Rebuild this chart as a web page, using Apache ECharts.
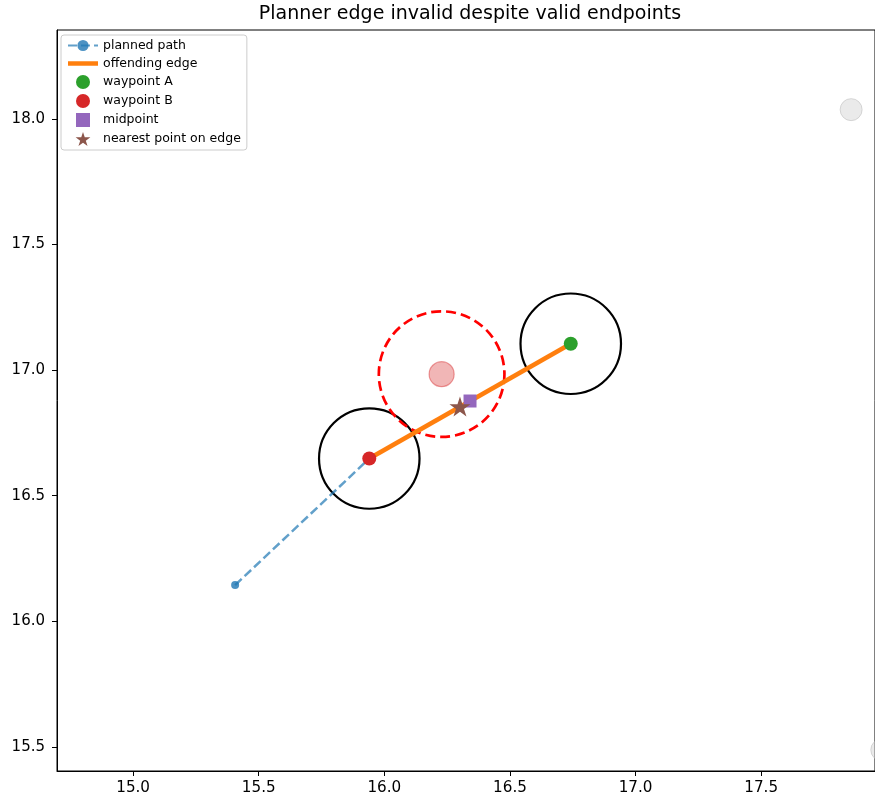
<!DOCTYPE html>
<html>
<head>
<meta charset="utf-8">
<script src="https://cdn.jsdelivr.net/npm/echarts@6/dist/echarts.min.js"></script>
<style>
  html, body { margin: 0; padding: 0; background: #fff; }
  #chart { width: 875px; height: 802px; }
</style>
</head>
<body>
<div id="chart"></div>
<script>
// data
const pathPoints = [[15.406, 16.144], [15.940, 16.648]]
const edgePoints = [[15.940, 16.648], [16.742, 17.105]]
const waypointA = [16.742, 17.105]
const waypointB = [15.940, 16.648]
const midpoint = [16.341, 16.877]
const nearestPoint = [16.301, 16.855]
const obstacleCenter = [16.228, 16.984]
const obstacleRadius = 0.25
const clearanceCircles = [[15.940, 16.648, 0.2], [16.742, 17.105, 0.2]]
const otherObstacles = [[17.858, 18.037], [17.98, 15.488]]
const xTicks = [15.0, 15.5, 16.0, 16.5, 17.0, 17.5]
const yTicks = [15.5, 16.0, 16.5, 17.0, 17.5, 18.0]

const FONT = 'DejaVu Sans'
const starPath = 'path://M0,-1L0.2245,-0.309L0.951,-0.309L0.363,0.118L0.588,0.809L0,0.382L-0.588,0.809L-0.363,0.118L-0.951,-0.309L-0.2245,-0.309Z'
const barPath = 'path://M0,0H30V4.5H0Z'
const squarePath = 'path://M0,0H1V1H0Z'

// circle in data units drawn through the axes
function circleItem(stroke, width, dash) {
  return function (params, api) {
    const c = api.coord([api.value(0), api.value(1)])
    const r = api.size([api.value(2), 0])[0]
    return {
      type: 'circle',
      shape: { cx: c[0], cy: c[1], r: r },
      style: { fill: 'none', stroke: stroke, lineWidth: width, lineDash: dash },
    }
  }
}

const chart = echarts.init(document.getElementById('chart'))
chart.setOption({
  animation: false,
  title: {
    text: 'Planner edge invalid despite valid endpoints',
    left: 465,
    top: 0,
    textAlign: 'center',
    textStyle: { fontFamily: FONT, fontSize: 19, fontWeight: 'normal', color: '#000' },
  },
  legend: {
    orient: 'vertical',
    left: 61,
    top: 35,
    padding: [4, 6],
    itemWidth: 30,
    itemHeight: 14,
    itemGap: 5,
    backgroundColor: '#fff',
    borderColor: '#ccc',
    borderWidth: 1,
    borderRadius: 3,
    textStyle: { fontFamily: FONT, fontSize: 12.5, color: '#000' },
    data: [
      'planned path',
      { name: 'offending edge', icon: barPath },
      { name: 'waypoint A', icon: 'circle' },
      { name: 'waypoint B', icon: 'circle' },
      { name: 'midpoint', icon: squarePath },
      { name: 'nearest point on edge', icon: starPath },
    ],
  },
  grid: {
    left: 57, right: 0, top: 30, bottom: 31,
    show: true, borderColor: '#000', borderWidth: 1,
  },
  xAxis: {
    type: 'value',
    min: 14.697,
    max: 17.953,
    splitLine: { show: false },
    axisLine: { onZero: false, lineStyle: { color: '#000', width: 1 } },
    axisTick: { customValues: xTicks, length: 5, lineStyle: { color: '#000' } },
    axisLabel: {
      customValues: xTicks, margin: 10, color: '#000',
      fontFamily: FONT, fontSize: 15.2,
      formatter: (v) => v.toFixed(1),
    },
  },
  yAxis: {
    type: 'value',
    min: 15.404,
    max: 18.354,
    splitLine: { show: false },
    axisLine: { onZero: false, lineStyle: { color: '#000', width: 1 } },
    axisTick: { customValues: yTicks, length: 5, lineStyle: { color: '#000' } },
    axisLabel: {
      customValues: yTicks, margin: 12, color: '#000',
      fontFamily: FONT, fontSize: 15,
      formatter: (v) => v.toFixed(1),
    },
  },
  series: [
    {
      name: 'other obstacles',
      type: 'scatter',
      z: 1,
      clip: false,
      symbolSize: 22,
      data: otherObstacles,
      itemStyle: { color: 'rgba(211,211,211,0.6)', borderColor: 'rgba(180,180,180,0.6)', borderWidth: 1 },
    },
    {
      name: 'clearance',
      type: 'custom',
      z: 2,
      renderItem: circleItem('#000', 2.2, null),
      data: clearanceCircles,
    },
    {
      name: 'obstacle radius',
      type: 'custom',
      z: 2,
      renderItem: circleItem('#ff0000', 2.7, [10, 5]),
      data: [[obstacleCenter[0], obstacleCenter[1], obstacleRadius]],
    },
    {
      name: 'obstacle',
      type: 'scatter',
      z: 2,
      symbolSize: 25,
      data: [obstacleCenter],
      itemStyle: { color: 'rgba(214,39,40,0.42)', borderColor: 'rgba(214,39,40,0.55)', borderWidth: 1.2 },
    },
    {
      name: 'planned path',
      type: 'line',
      z: 3,
      data: pathPoints,
      symbol: 'circle',
      symbolSize: 8,
      lineStyle: { color: 'rgba(31,119,180,0.7)', width: 2.5, type: [9, 4] },
      itemStyle: { color: 'rgba(31,119,180,0.8)' },
    },
    {
      name: 'offending edge',
      type: 'line',
      z: 4,
      data: edgePoints,
      symbol: 'none',
      lineStyle: { color: '#ff7f0e', width: 4.7 },
      itemStyle: { color: '#ff7f0e' },
    },
    {
      name: 'waypoint A',
      type: 'scatter',
      z: 5,
      symbolSize: 14,
      data: [waypointA],
      itemStyle: { color: '#2ca02c', opacity: 1 },
    },
    {
      name: 'waypoint B',
      type: 'scatter',
      z: 5,
      symbolSize: 14,
      data: [waypointB],
      itemStyle: { color: '#d62728', opacity: 1 },
    },
    {
      name: 'midpoint',
      type: 'scatter',
      z: 5,
      symbol: 'rect',
      symbolSize: 13,
      data: [midpoint],
      itemStyle: { color: '#9467bd', opacity: 1 },
    },
    {
      name: 'nearest point on edge',
      type: 'scatter',
      z: 6,
      symbol: starPath,
      symbolSize: 21,
      symbolKeepAspect: true,
      data: [nearestPoint],
      itemStyle: { color: '#8c564b', opacity: 1 },
    },
  ],
})
</script>
</body>
</html>
